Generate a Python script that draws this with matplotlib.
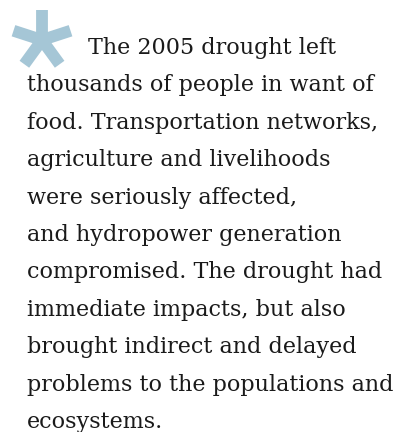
import matplotlib
matplotlib.use("Agg")
import matplotlib.pyplot as plt
import numpy as np

# Text content, one entry per printed line
lines = [
    "The 2005 drought left",
    "thousands of people in want of",
    "food. Transportation networks,",
    "agriculture and livelihoods",
    "were seriously affected,",
    "and hydropower generation",
    "compromised. The drought had",
    "immediate impacts, but also",
    "brought indirect and delayed",
    "problems to the populations and",
    "ecosystems.",
]

W, H = 400, 432
STAR_COLOR = "#a5c6d6"
TEXT_COLOR = "#1a1a1a"

fig = plt.figure(figsize=(W / 100, H / 100), dpi=100)
ax = fig.add_axes([0, 0, 1, 1])
ax.set_xlim(0, W)
ax.set_ylim(H, 0)
ax.axis("off")

# five-armed asterisk (pixel coordinates, y down)
cx, cy, arm = 42, 40, 30
for k in range(5):
    ang = np.deg2rad(-90 + 72 * k)
    ax.plot([cx, cx + arm * np.cos(ang)], [cy, cy + arm * np.sin(ang)],
            color=STAR_COLOR, lw=8.5, solid_capstyle="butt")

# paragraph
x0, x_first, y0, dy = 27, 88, 54, 37.4
for i, line in enumerate(lines):
    x = x_first if i == 0 else x0
    ax.text(x, y0 + i * dy, line, fontsize=16, family="DejaVu Serif",
            color=TEXT_COLOR, ha="left", va="baseline")

fig.savefig("out.png", dpi=100)
